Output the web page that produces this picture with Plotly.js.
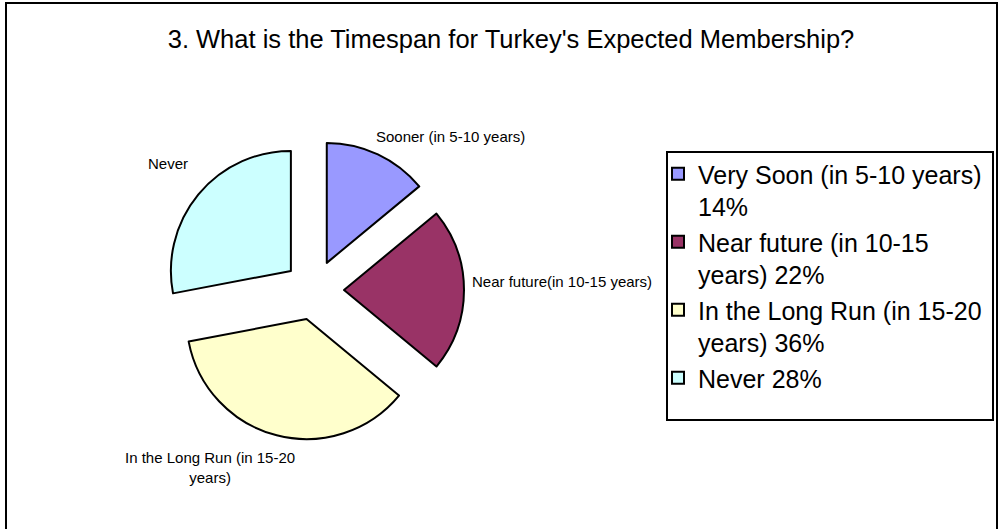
<!DOCTYPE html>
<html>
<head>
<meta charset="utf-8">
<script src="https://cdn.plot.ly/plotly-3.0.1.min.js"></script>
<style>
  html, body { margin: 0; padding: 0; background: #ffffff; }
  #chart { width: 1000px; height: 529px; }
</style>
</head>
<body>
<div id="chart"></div>
<script>
// ---- data ----
const chartTitle = "3. What is the Timespan for Turkey's Expected Membership?";
const legendLabels = [
  "Very Soon (in 5-10 years)<br>14%",
  "Near future (in 10-15<br>years) 22%",
  "In the Long Run (in 15-20<br>years) 36%",
  "Never 28%"
];
const sliceLabels = [
  "Sooner (in 5-10 years)",
  "Near future(in 10-15 years)",
  "In the Long Run (in 15-20<br>years)",
  "Never"
];
const sliceValues = [14, 22, 36, 28];
const sliceColors = ["#9999FF", "#993366", "#FFFFCC", "#CCFFFF"];

// ---- layout helpers (positions only) ----
const FONT = "Liberation Sans, Arial, sans-serif";
const labelPlacement = [
  {x: 0.450, y: 0.7429, xanchor: "center"},
  {x: 0.470, y: 0.4688, xanchor: "left"},
  {x: 0.210, y: 0.1172, xanchor: "center"},
  {x: 0.168, y: 0.6900, xanchor: "center"}
];

const trace = {
  type: "pie",
  labels: legendLabels,
  values: sliceValues,
  sort: false,
  direction: "clockwise",
  rotation: 0,
  pull: sliceValues.map(() => 0.25),
  marker: { colors: sliceColors, line: { color: "#000000", width: 2 } },
  textinfo: "none",
  hoverinfo: "label+percent",
  domain: { x: [0.164, 0.464], y: [0.1682, 0.7353] },
  showlegend: true
};

const annotations = sliceLabels.map((t, i) => ({
  text: t,
  xref: "paper", yref: "paper",
  x: labelPlacement[i].x, y: labelPlacement[i].y,
  xanchor: labelPlacement[i].xanchor, yanchor: "middle",
  showarrow: false,
  align: "center",
  font: { family: FONT, size: 15, color: "#000000" }
}));

const layout = {
  width: 1000, height: 529,
  margin: { l: 0, r: 0, t: 0, b: 0, pad: 0 },
  paper_bgcolor: "#ffffff",
  plot_bgcolor: "#ffffff",
  font: { family: FONT, color: "#000000" },
  title: {
    text: chartTitle,
    font: { family: FONT, size: 25.5, color: "#000000" },
    x: 0.511, xanchor: "center",
    y: 1 - 39 / 529, yanchor: "middle",
    yref: "container"
  },
  showlegend: true,
  legend: {
    x: 0.658, xanchor: "left",
    y: 1 - 151 / 529, yanchor: "top",
    valign: "top",
    bgcolor: "rgba(0,0,0,0)",
    borderwidth: 0,
    font: { family: FONT, size: 25, color: "#000000" },
    tracegroupgap: 0,
    itemclick: false
  },
  annotations: annotations,
  shapes: [
    { type: "rect", xref: "paper", yref: "paper",
      x0: 0.667, x1: 0.993, y0: 1 - 420 / 529, y1: 1 - 152 / 529,
      line: { color: "#000000", width: 2 }, fillcolor: "rgba(0,0,0,0)", layer: "below" },
    { type: "rect", xref: "paper", yref: "paper",
      x0: 0.006, x1: 0.997, y0: -0.05, y1: 1 - 3 / 529,
      line: { color: "#000000", width: 2 }, fillcolor: "rgba(0,0,0,0)", layer: "below" }
  ]
};

Plotly.newPlot("chart", [trace], layout, { displayModeBar: false, staticPlot: true });
</script>
</body>
</html>
